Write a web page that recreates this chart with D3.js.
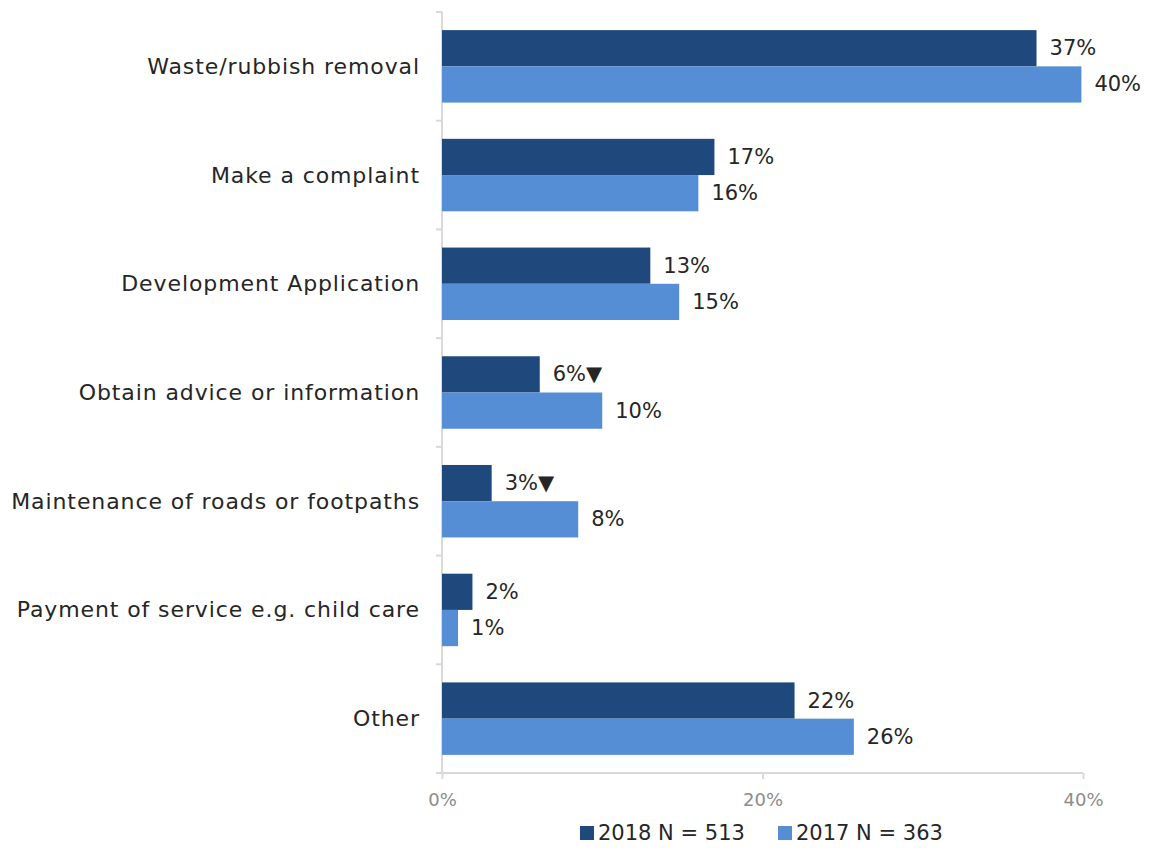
<!DOCTYPE html>
<html><head><meta charset="utf-8">
<script src="https://cdn.jsdelivr.net/npm/d3@7"></script>
<style>body{margin:0;background:#fff;} text{font-family:"DejaVu Sans",sans-serif;}</style>
</head><body>
<svg id="c" width="1152" height="848"></svg>
<script>
const categories = ["Waste/rubbish removal","Make a complaint","Development Application","Obtain advice or information","Maintenance of roads or footpaths","Payment of service e.g. child care","Other"];
const values2018 = [37.1, 17.0, 13.0, 6.1, 3.1, 1.9, 22.0];
const values2017 = [39.9, 16.0, 14.8, 10.0, 8.5, 1.0, 25.7];
const labels2018 = ["37%","17%","13%","6%▼","3%▼","2%","22%"];
const labels2017 = ["40%","16%","15%","10%","8%","1%","26%"];
const seriesNames = ["2018 N = 513","2017 N = 363"];
const xTicks = [0, 20, 40];

const colors = ["#1f497d", "#558ed5"];
const svg = d3.select("#c");
const m = {left: 442, right: 1083, top: 12, bottom: 773};
const x = d3.scaleLinear().domain([0, 40]).range([m.left, m.right]);
const y = d3.scaleBand().domain(categories).range([m.top, m.bottom]).paddingInner(0).paddingOuter(0);
const inner = d3.scaleBand().domain([0,1]).range([0, y.bandwidth()]).paddingOuter(0.5).paddingInner(0);

// axes
const yb = [m.top, ...categories.map(c => y(c) + y.bandwidth())];
svg.append("line").attr("x1", m.left).attr("x2", m.left).attr("y1", m.top).attr("y2", m.bottom)
  .attr("stroke", "#d9d9d9").attr("stroke-width", 2);
svg.selectAll(".yt").data(yb).enter().append("line")
  .attr("x1", m.left - 6).attr("x2", m.left).attr("y1", d => d).attr("y2", d => d)
  .attr("stroke", "#d9d9d9").attr("stroke-width", 2);

const gx = svg.append("g").attr("transform", `translate(0,${m.bottom})`)
  .call(d3.axisBottom(x).tickValues(xTicks).tickSize(6).tickPadding(14).tickFormat(d => d + "%"));
gx.select(".domain").attr("stroke", "#d9d9d9").attr("stroke-width", 2).attr("d", `M${m.left},0H${m.right}`);
gx.selectAll(".tick line").attr("stroke", "#d9d9d9").attr("stroke-width", 2);
gx.selectAll(".tick text").attr("fill", "#8c8c8c").style("font-size", "18px").style("font-family", "'DejaVu Sans', sans-serif");

// category labels
svg.selectAll(".cat").data(categories).enter().append("text")
  .attr("x", 420).attr("y", d => y(d) + y.bandwidth()/2)
  .attr("text-anchor", "end").attr("dominant-baseline", "central")
  .attr("fill", "#262626").style("font-size", "22px").style("letter-spacing", "0.9px").text(d => d);

// bars
const series = [values2018, values2017];
const labs = [labels2018, labels2017];
series.forEach((vals, si) => {
  svg.selectAll(".b" + si).data(vals).enter().append("rect")
    .attr("x", x(0)).attr("y", (d, i) => y(categories[i]) + inner(si))
    .attr("width", d => x(d) - x(0)).attr("height", inner.bandwidth())
    .attr("fill", colors[si]);
  svg.selectAll(".l" + si).data(vals).enter().append("text")
    .attr("x", d => x(d) + 13).attr("y", (d, i) => y(categories[i]) + inner(si) + inner.bandwidth()/2)
    .attr("dominant-baseline", "central").attr("fill", "#262626").style("font-size", "21px")
    .text((d, i) => labs[si][i]);
});

// legend
const lg = svg.append("g");
const lx = [580, 778];
seriesNames.forEach((n, i) => {
  lg.append("rect").attr("x", lx[i]).attr("y", 826).attr("width", 14).attr("height", 14).attr("fill", colors[i]);
  lg.append("text").attr("x", lx[i] + 18).attr("y", 833).attr("dominant-baseline", "central")
    .attr("fill", "#262626").style("font-size", "21px").text(n);
});
</script>
</body></html>
